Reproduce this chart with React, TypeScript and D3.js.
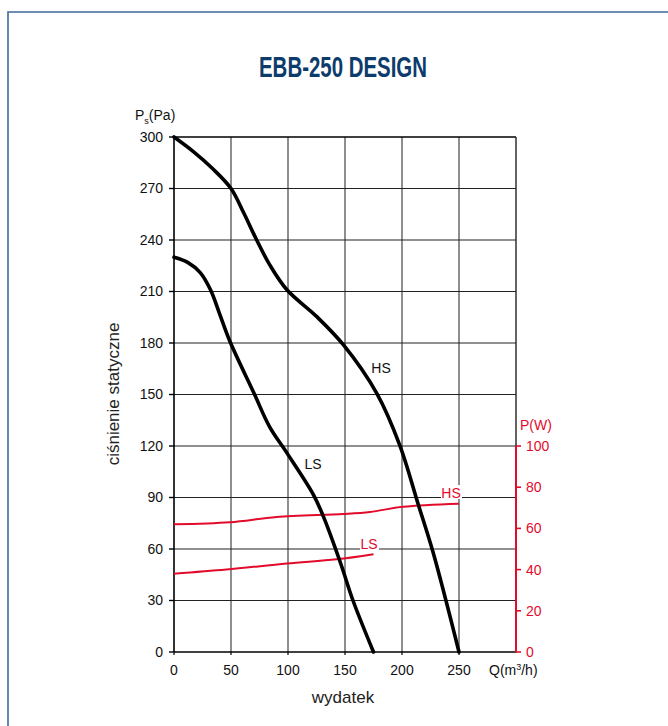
import React from "react";
import * as d3 from "d3";

const xTicks = [0, 50, 100, 150, 200, 250];
const yTicks = [0, 30, 60, 90, 120, 150, 180, 210, 240, 270, 300];
const pTicks = [0, 20, 40, 60, 80, 100];

const hsQ = [0, 17, 34, 50, 61, 72.5, 84, 99, 125, 148.5, 178, 198, 214, 227.5, 250];
const hsP = [300, 291.5, 281.5, 270, 256, 240, 225.5, 211, 195.5, 179, 150.5, 120.5, 86.5, 57.5, 0];
const lsQ = [0, 12, 23, 32, 40, 49, 70, 84, 99, 122, 131, 146, 157, 175];
const lsP = [230, 227, 221, 211, 197, 181, 151, 131, 116, 92, 79, 52, 30, 0];

const hsPowQ = [0, 49, 90, 148.5, 172, 201, 250];
const hsPowW = [62, 63, 65.5, 67, 68, 70.5, 72];
const lsPowQ = [0, 46, 99, 142.5, 175];
const lsPowW = [38, 40, 43, 45, 47.5];

const RED = "#e30b2c";
const FONT = "'Liberation Sans', Arial, sans-serif";

export default function App() {
  const L = 174, R = 516, T = 137, B = 652;
  const x = d3.scaleLinear().domain([0, 300]).range([L, R]);
  const y = d3.scaleLinear().domain([0, 300]).range([B, T]);
  const yp = d3.scaleLinear().domain([0, 250]).range([B, T]);

  const pLine = d3
    .line<[number, number]>()
    .x((d) => x(d[0]))
    .y((d) => y(d[1]))
    .curve(d3.curveCatmullRom.alpha(0.5));
  const wLine = d3
    .line<[number, number]>()
    .x((d) => x(d[0]))
    .y((d) => yp(d[1]))
    .curve(d3.curveCatmullRom.alpha(0.5));

  const hs = pLine(hsQ.map((q, i) => [q, hsP[i]]) as [number, number][]) || "";
  const ls = pLine(lsQ.map((q, i) => [q, lsP[i]]) as [number, number][]) || "";
  const hsW = wLine(hsPowQ.map((q, i) => [q, hsPowW[i]]) as [number, number][]) || "";
  const lsW = wLine(lsPowQ.map((q, i) => [q, lsPowW[i]]) as [number, number][]) || "";

  const gridX = [50, 100, 150, 200, 250];
  const gridY = yTicks.filter((t) => t > 0 && t < 300);

  return (
    <div style={{ position: "absolute", left: 0, top: 0 }}>
      <svg width={668} height={726} style={{ display: "block", fontFamily: FONT }}>
        <rect x={0} y={0} width={668} height={726} fill="#fff" />
        <path d="M8,740 L8,12 L680,12" fill="none" stroke="#3f6b99" strokeWidth={1.6} />
        <text
          x={343}
          y={77}
          textAnchor="middle"
          fontFamily={FONT}
          fontWeight="bold"
          fontSize={29}
          fill="#0d3c6c"
          textLength={168}
          lengthAdjust="spacingAndGlyphs"
        >
          EBB-250 DESIGN
        </text>

        {/* grid */}
        {gridX.map((t) => (
          <line key={"gx" + t} x1={x(t)} x2={x(t)} y1={T} y2={B} stroke="#444" strokeWidth={1.2} />
        ))}
        {gridY.map((t) => (
          <line key={"gy" + t} x1={L} x2={R} y1={y(t)} y2={y(t)} stroke="#222" strokeWidth={1.2} />
        ))}
        {/* frame */}
        <line x1={L} x2={R} y1={T} y2={T} stroke="#000" strokeWidth={1.4} />
        <line x1={L} x2={R} y1={B} y2={B} stroke="#000" strokeWidth={1.6} />
        <line x1={L} x2={L} y1={T} y2={B} stroke="#000" strokeWidth={1.6} />
        <line x1={R} x2={R} y1={T} y2={yp(100)} stroke="#222" strokeWidth={1.4} />
        <line x1={R} x2={R} y1={yp(100)} y2={B} stroke={RED} strokeWidth={2} />

        {/* left ticks */}
        {yTicks.map((t) => (
          <g key={"yt" + t}>
            <line x1={L - 5} x2={L} y1={y(t)} y2={y(t)} stroke="#000" strokeWidth={1.4} />
            <text x={163} y={y(t)} dy="0.35em" textAnchor="end" fontSize={14} fill="#111">
              {t}
            </text>
          </g>
        ))}
        {/* bottom ticks */}
        {xTicks.map((t) => (
          <g key={"xt" + t}>
            <line x1={x(t)} x2={x(t)} y1={B} y2={B + 3} stroke="#000" strokeWidth={1.2} />
            <text x={x(t)} y={670} dy="0.35em" textAnchor="middle" fontSize={14} fill="#111">
              {t}
            </text>
          </g>
        ))}
        {/* right ticks */}
        {pTicks.map((t) => (
          <g key={"pt" + t}>
            <line x1={R} x2={R + 5} y1={yp(t)} y2={yp(t)} stroke={RED} strokeWidth={1.6} />
            <text x={526} y={yp(t)} dy="0.35em" textAnchor="start" fontSize={14} fill={RED}>
              {t}
            </text>
          </g>
        ))}

        {/* axis titles */}
        <text x={135} y={120} fontSize={14} fill="#111">
          P<tspan fontSize={9} dy={4}>s</tspan>
          <tspan dy={-4}>(Pa)</tspan>
        </text>
        <text x={520} y={430} fontSize={14} fill={RED}>
          P(W)
        </text>
        <text x={489} y={675} fontSize={14} fill="#111">
          Q(m<tspan fontSize={9} dy={-5}>3</tspan>
          <tspan dy={5}>/h)</tspan>
        </text>
        <text x={343} y={703} textAnchor="middle" fontSize={17} fill="#222">
          wydatek
        </text>
        <text
          transform="translate(119,394) rotate(-90)"
          textAnchor="middle"
          fontSize={17}
          fill="#222"
        >
          ciśnienie statyczne
        </text>

        {/* power curves */}
        <path d={hsW} fill="none" stroke={RED} strokeWidth={2} />
        <path d={lsW} fill="none" stroke={RED} strokeWidth={2} />

        {/* pressure curves */}
        <path d={hs} fill="none" stroke="#000" strokeWidth={3.6} strokeLinecap="round" />
        <path d={ls} fill="none" stroke="#000" strokeWidth={3.6} strokeLinecap="round" />

        {/* labels */}
        <text x={381} y={368} dy="0.35em" textAnchor="middle" fontSize={14} fill="#111">
          HS
        </text>
        <text x={313} y={464} dy="0.35em" textAnchor="middle" fontSize={14} fill="#111">
          LS
        </text>
        <rect x={441} y={485} width={21} height={14} fill="#fff" />
        <text x={451} y={493} dy="0.35em" textAnchor="middle" fontSize={14} fill={RED}>
          HS
        </text>
        <rect x={360} y={537} width={19} height={13} fill="#fff" />
        <text x={369} y={544} dy="0.35em" textAnchor="middle" fontSize={14} fill={RED}>
          LS
        </text>
      </svg>
    </div>
  );
}
